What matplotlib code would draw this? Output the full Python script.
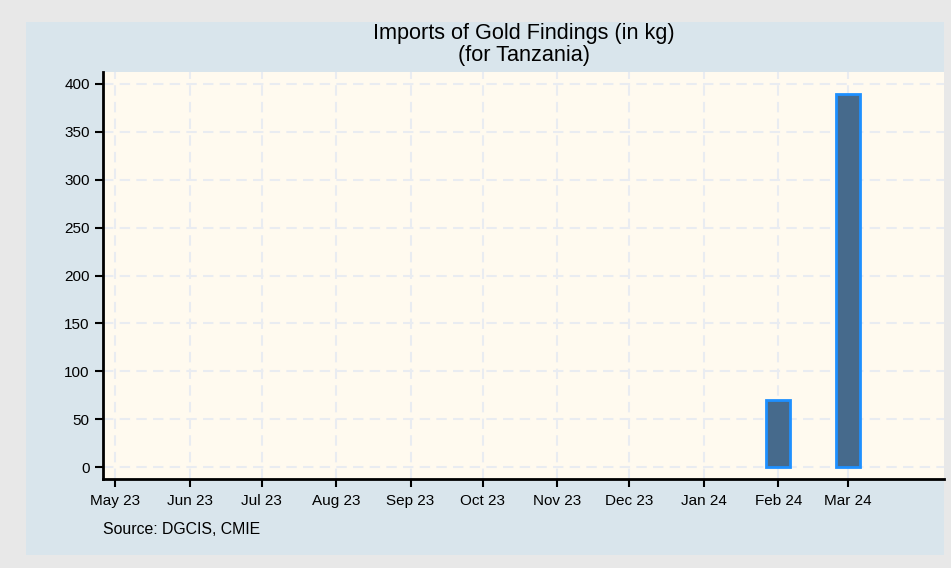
import matplotlib
matplotlib.use('Agg')
import matplotlib.pyplot as plt
import matplotlib.dates as mdates
from matplotlib.patches import Rectangle
import numpy as np
import pandas as pd

months = ['2023-05-01', '2023-06-01', '2023-07-01', '2023-08-01', '2023-09-01',
          '2023-10-01', '2023-11-01', '2023-12-01', '2024-01-01', '2024-02-01',
          '2024-03-01']
imports_kg = [0, 0, 0, 0, 0, 0, 0, 0, 0, 70, 390]
yticks = [0, 50, 100, 150, 200, 250, 300, 350, 400]

plt.rcParams['font.family'] = ['Liberation Sans', 'DejaVu Sans']

dates = pd.to_datetime(months)
fig = plt.figure(figsize=(9.51, 5.68), dpi=100)
fig.patch.set_facecolor('#e8e8e8')
fig.patches.append(Rectangle((26/951, 13/568), 918/951, 533/568,
                             transform=fig.transFigure, facecolor='#d9e5ec',
                             edgecolor='none', zorder=-5))

ax = fig.add_axes([103/951, 89/568, 841/951, 407/568])
ax.set_facecolor('#fffaef')

vals = np.array(imports_kg)
mask = vals > 0
ax.bar(dates[mask], vals[mask], width=10, color='#466a8c',
       edgecolor='#1e90ff', linewidth=2, zorder=3)

ax.set_xlim(pd.Timestamp('2023-04-26'), pd.Timestamp('2024-04-10'))
ax.set_ylim(-12.5, 412.5)
ax.set_xticks(dates)
ax.xaxis.set_major_formatter(mdates.DateFormatter('%b %y'))
ax.set_yticks(yticks)

ax.grid(True, color='#e9ecf1', linestyle=(0, (5, 3)), linewidth=1.5, zorder=0)
ax.set_axisbelow(True)
for s in ['top', 'right']:
    ax.spines[s].set_visible(False)
for s in ['left', 'bottom']:
    ax.spines[s].set_linewidth(2)
    ax.spines[s].set_color('black')
ax.tick_params(axis='both', direction='out', length=6, width=1.5,
               labelsize=11, colors='black', pad=3.5)
ax.tick_params(axis='x', pad=4.5)

fig.text(523.5/951, 1 - 34/568, 'Imports of Gold Findings (in kg)', ha='center',
         va='center', fontsize=15.6)
fig.text(523.5/951, 1 - 56/568, '(for Tanzania)', ha='center', va='center',
         fontsize=15.6)
fig.text(103/951, 1 - 529/568, 'Source: DGCIS, CMIE', ha='left', va='center',
         fontsize=11.4)

plt.savefig('out.png', dpi=100, facecolor=fig.get_facecolor())
